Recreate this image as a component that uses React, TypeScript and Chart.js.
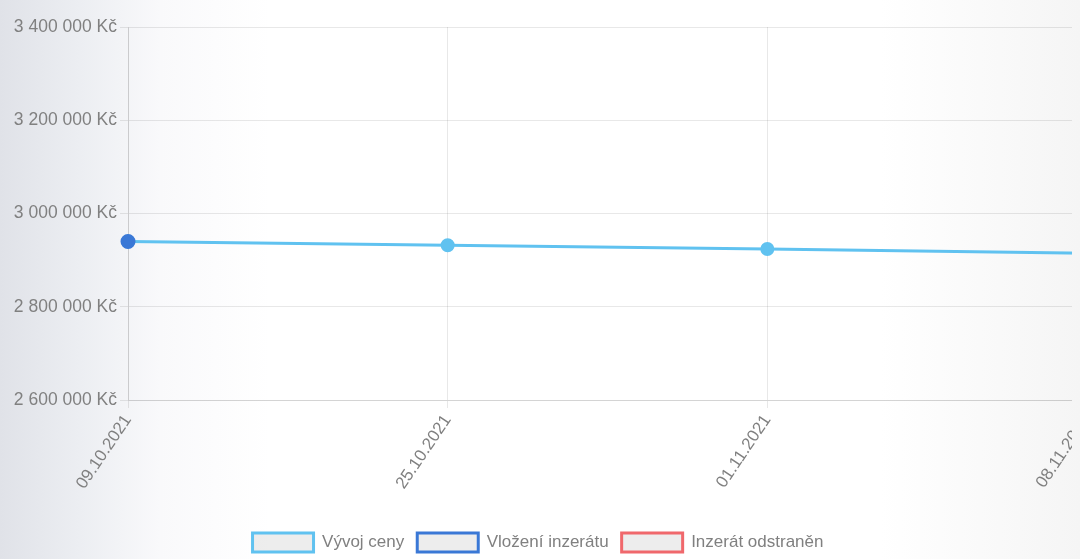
import { useEffect, useRef } from 'react';
import { Chart, registerables } from 'chart.js';

Chart.register(...registerables);

// Price history of the listing
const dates = ['09.10.2021', '25.10.2021', '01.11.2021', '08.11.2021'];
const priceHistory = [2940000, 2932000, 2924000, 2915000];
const listingAdded = [2940000, null, null, null];
const listingRemoved = [null, null, null, null];

const yMin = 2600000;
const yMax = 3400000;
const yStep = 200000;

const seriesNames = ['Vývoj ceny', 'Vložení inzerátu', 'Inzerát odstraněn'];

const LIGHT_BLUE = 'rgb(96, 194, 240)';
const DARK_BLUE = 'rgb(58, 120, 214)';
const RED = 'rgb(240, 104, 108)';
const TEXT = '#808080';
const GRID = 'rgba(0, 0, 0, 0.09)';
const FONT = '"Liberation Sans", Arial, sans-serif';

const formatKc = (v: number) =>
  String(Math.round(v)).replace(/\B(?=(\d{3})+(?!\d))/g, ' ') + ' Kč';

// Keeps the legend centred under the visible part of the page
const legendShift = {
  id: 'legendShift',
  afterLayout(chart: any) {
    const lg = chart.legend;
    if (lg) {
      lg.left -= 9.5;
      lg.right -= 9.5;
    }
  },
};

export default function App() {
  const canvasRef = useRef<HTMLCanvasElement | null>(null);

  useEffect(() => {
    document.body.style.background =
      'linear-gradient(90deg, #e0e2e8 0px, #eceef2 80px, #f9f9fb 160px, #ffffff 270px, #ffffff 880px, #f5f5f5 1080px)';
    const canvas = canvasRef.current;
    if (!canvas) return;
    const chart = new Chart(canvas, {
      type: 'line',
      data: {
        labels: dates,
        datasets: [
          {
            label: seriesNames[0],
            data: priceHistory,
            borderColor: LIGHT_BLUE,
            backgroundColor: 'rgba(215, 215, 215, 0.45)',
            pointBackgroundColor: LIGHT_BLUE,
            pointBorderColor: LIGHT_BLUE,
            borderWidth: 3,
            pointRadius: 5.5,
            tension: 0,
            order: 1,
          },
          {
            label: seriesNames[1],
            data: listingAdded,
            borderColor: DARK_BLUE,
            backgroundColor: 'rgba(215, 215, 215, 0.45)',
            pointBackgroundColor: DARK_BLUE,
            pointBorderColor: DARK_BLUE,
            borderWidth: 3,
            pointRadius: 6,
            showLine: false,
            order: 0,
          },
          {
            label: seriesNames[2],
            data: listingRemoved,
            borderColor: RED,
            backgroundColor: 'rgba(215, 215, 215, 0.45)',
            pointBackgroundColor: RED,
            pointBorderColor: RED,
            borderWidth: 3,
            pointRadius: 6,
            showLine: false,
            order: 2,
          },
        ],
      },
      options: {
        responsive: false,
        animation: false,
        layout: { padding: { top: 19, right: 11, left: 0, bottom: 0 } },
        font: { family: FONT, size: 17 },
        color: TEXT,
        scales: {
          x: {
            grid: { color: GRID, tickLength: 8 },
            border: { color: GRID },
            ticks: {
              color: TEXT,
              font: { family: FONT, size: 17 },
              minRotation: 56,
              maxRotation: 56,
              padding: 3,
            },
            afterFit: (scale: any) => {
              scale.height = 90;
              scale.paddingLeft = 0;
              scale.paddingRight = 0;
            },
          },
          y: {
            min: yMin,
            max: yMax,
            grid: { color: GRID, tickLength: 8 },
            border: { color: GRID },
            ticks: {
              stepSize: yStep,
              color: TEXT,
              font: { family: FONT, size: 17.5 },
              padding: 3,
              callback: (v: any) => formatKc(Number(v)),
            },
            afterFit: (scale: any) => {
              scale.width = 120;
            },
          },
        },
        plugins: {
          tooltip: { enabled: false },
          legend: {
            position: 'bottom',
            title: { display: true, text: '', font: { size: 10 }, padding: { top: 18, bottom: 0 } },
            labels: {
              boxWidth: 61,
              boxHeight: 19,
              padding: 13,
              color: TEXT,
              font: { family: FONT, size: 17 },
              sort: (a: any, b: any) => a.datasetIndex - b.datasetIndex,
            },
          },
        },
      },
      plugins: [legendShift],
    });
    return () => chart.destroy();
  }, []);

  return (
    <div style={{ width: 1072, height: 551, overflow: 'hidden', position: 'relative' }}>
      <canvas ref={canvasRef} width={1090} height={554} style={{ display: 'block' }} />
    </div>
  );
}
